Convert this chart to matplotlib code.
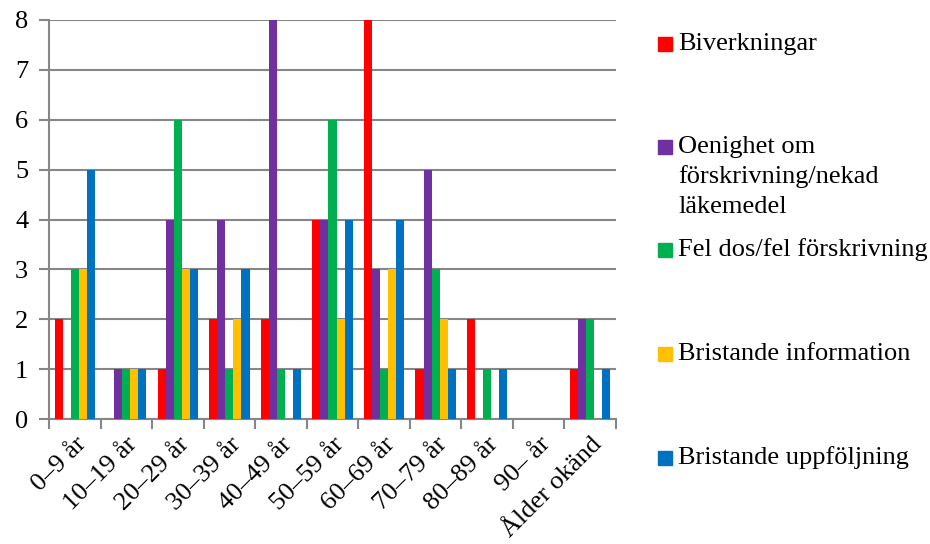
import numpy as np
import matplotlib
matplotlib.use("Agg")
import matplotlib.pyplot as plt
from matplotlib import font_manager
from matplotlib.patches import Rectangle

plt.rcParams['font.family'] = 'serif'
plt.rcParams['font.serif'] = ['Liberation Serif', 'DejaVu Serif']
print([f.name for f in font_manager.fontManager.ttflist if 'Liberation' in f.name][:10])

# Age groups and counts per category
age_groups = ['0–9 år', '10–19 år', '20–29 år', '30–39 år', '40–49 år',
              '50–59 år', '60–69 år', '70–79 år', '80–89 år', '90– år',
              'Ålder okänd']
biverkningar = [2, 0, 1, 2, 2, 4, 8, 1, 2, 0, 1]
oenighet = [0, 1, 4, 4, 8, 4, 3, 5, 0, 0, 2]
fel_dos = [3, 1, 6, 1, 1, 6, 1, 3, 1, 0, 2]
bristande_info = [3, 1, 3, 2, 0, 2, 3, 2, 0, 0, 0]
bristande_uppf = [5, 1, 3, 3, 1, 4, 4, 1, 1, 0, 1]

series_names = ['Biverkningar', 'Oenighet om\nförskrivning/nekad\nläkemedel',
                'Fel dos/fel förskrivning', 'Bristande information',
                'Bristande uppföljning']
series = [biverkningar, oenighet, fel_dos, bristande_info, bristande_uppf]
colors = ['#FF0000', '#7030A0', '#00B050', '#FFC000', '#0070C0']

fig = plt.figure(figsize=(9.3, 5.44), dpi=100)
ax = fig.add_axes([49 / 930, 1 - 419 / 544, 567 / 930, 399 / 544])

x = np.arange(len(age_groups))
bar_w = 0.156
for i, (vals, c) in enumerate(zip(series, colors)):
    ax.bar(x + (i - 2) * bar_w, vals, width=bar_w, color=c, zorder=3,
           linewidth=0)

ax.set_xlim(-0.5, len(age_groups) - 0.5)
ax.set_ylim(0, 8)
ax.set_yticks(range(0, 9))
ax.yaxis.grid(True, color='#868686', linewidth=1.5, zorder=0)
ax.tick_params(axis='y', labelsize=19, length=7, width=1.5, color='#868686', pad=8)

# category boundary ticks on the x axis
ax.set_xticks(np.arange(-0.5, len(age_groups)), minor=False)
ax.set_xticklabels([])
ax.set_xticks(x, minor=True)
ax.set_xticklabels(age_groups, minor=True, rotation=45, ha='right',
                   rotation_mode='anchor', fontsize=19)
ax.tick_params(axis='x', which='major', length=7, width=1.5, color='#868686')
ax.tick_params(axis='x', which='minor', length=0, pad=10)

for s in ['top', 'right']:
    ax.spines[s].set_visible(False)
for s in ['left', 'bottom']:
    ax.spines[s].set_color('#868686')
    ax.spines[s].set_linewidth(1.5)

# legend placed by hand, one text per line
legend_y = [44, 147, 250, 354, 458]
for name, c, yy in zip(series_names, colors, legend_y):
    fig.patches.append(Rectangle((658 / 930, 1 - (yy + 7) / 544), 14 / 930, 14 / 544,
                                 transform=fig.transFigure, color=c))
    for k, line in enumerate(name.split('\n')):
        fig.text(678 / 930, 1 - (yy + 30 * k) / 544, line, fontsize=19,
                 va='center', ha='left')

plt.savefig('out.png', dpi=100)
